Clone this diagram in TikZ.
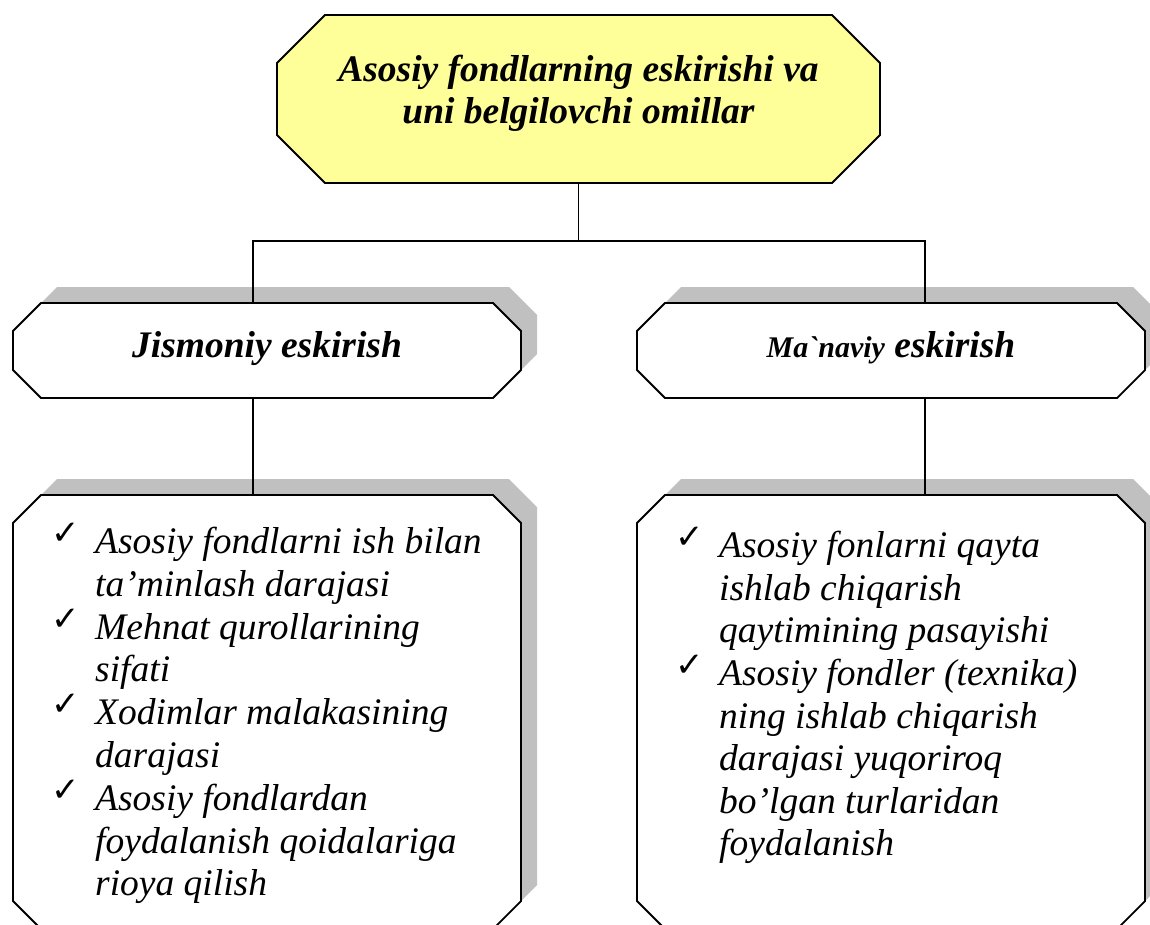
\documentclass[tikz,border=0pt]{standalone}
\usepackage{fontspec}
\setmainfont{Liberation Serif}[Ligatures=TeXOff]
\newfontfamily\chkfont{DejaVu Sans}
\usepackage{tikz}
\usetikzlibrary{shadows}

\definecolor{boxyellow}{HTML}{FFFF99}
\definecolor{shadowgray}{HTML}{C0C0C0}

% check mark in front of each list item
\newcommand{\chk}{\makebox[44pt][l]{\raisebox{9pt}{\fontsize{34}{34}\chkfont\bfseries ✓}}}
% octagon round a node, #2 = size of the cut corners
\newcommand{\octpath}[2]{([xshift=#2]#1.north west) -- ([xshift=-#2]#1.north east)
  -- ([yshift=-#2]#1.north east) -- ([yshift=#2]#1.south east)
  -- ([xshift=-#2]#1.south east) -- ([xshift=#2]#1.south west)
  -- ([yshift=#2]#1.south west) -- ([yshift=-#2]#1.north west) -- cycle}

\begin{document}
\begin{tikzpicture}
[x=1pt, y=-1pt, % one unit = one pixel, y runs down
boxspot/.style={rectangle, inner sep=0pt, outer sep=0pt, minimum width=508pt},
boxline/.style={draw, line width=1.8pt, fill=white, line join=miter},
shadowed/.style={drop shadow={shadow xshift=16pt, shadow yshift=16pt, fill=shadowgray, opacity=1}},
link/.style={line width=1.3pt},
headtext/.style={font=\fontsize{37.5}{42}\selectfont\bfseries\itshape, align=center, inner sep=0pt},
listtext/.style={font=\fontsize{37.5}{42.5}\selectfont\itshape, inner sep=0pt, anchor=north west}]

\clip (0,0) rectangle (1150,924);

% places of the boxes
\node[boxspot, minimum width=603pt, minimum height=168pt] (top) at (578.5,99) {};
\node[boxspot, minimum height=95pt] (jis) at (267,350.5) {};
\node[boxspot, minimum height=95pt] (man) at (891,350.5) {};
\node[boxspot, minimum height=434pt] (jlist) at (267,712) {};
\node[boxspot, minimum height=434pt] (mlist) at (891,712) {};

% the boxes themselves
\draw[boxline, fill=boxyellow] \octpath{top}{48pt};
\draw[boxline, shadowed] \octpath{jis}{28pt};
\draw[boxline, shadowed] \octpath{man}{28pt};
\draw[boxline, shadowed] \octpath{jlist}{28pt};
\draw[boxline, shadowed] \octpath{mlist}{28pt};

% texts
\node[headtext] (toptext) at (578.5,93) {Asosiy fondlarning eskirishi va\\uni belgilovchi omillar};
\node[headtext, anchor=base] (jistext) at (267,357) {Jismoniy eskirish};
\node[headtext, anchor=base] (mantext) at (891,357) {{\fontsize{30}{34}\selectfont Ma`naviy} eskirish};

\node[listtext] (jitems) at (51,523) {\begin{tabular}{@{}l@{}l@{}}
\chk & Asosiy fondlarni ish bilan\\
 & ta’minlash darajasi\\
\chk & Mehnat qurollarining\\
 & sifati\\
\chk & Xodimlar malakasining\\
 & darajasi\\
\chk & Asosiy fondlardan\\
 & foydalanish qoidalariga\\
 & rioya qilish
\end{tabular}};
\node[listtext] (mitems) at (675,527) {\begin{tabular}{@{}l@{}l@{}}
\chk & Asosiy fonlarni qayta\\
 & ishlab chiqarish\\
 & qaytimining pasayishi\\
\chk & Asosiy fondler (texnika)\\
 & ning ishlab chiqarish\\
 & darajasi yuqoriroq\\
 & bo’lgan turlaridan\\
 & foydalanish
\end{tabular}};

% connectors
\coordinate (jhub) at (253,241);
\coordinate (mhub) at (925,241);
\draw[link] (top.south) -- (top.south |- jhub);
\draw[link] (jis.north -| jhub) -- (jhub) -- (mhub) -- (man.north -| mhub);
\draw[link] (jis.south -| jhub) -- (jlist.north -| jhub);
\draw[link] (man.south -| mhub) -- (mlist.north -| mhub);
\end{tikzpicture}
\end{document}
